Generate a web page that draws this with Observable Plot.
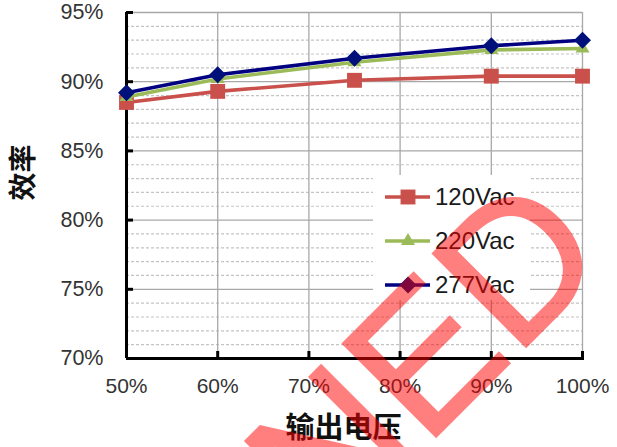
<!DOCTYPE html>
<html>
<head>
<meta charset="utf-8">
<script src="https://cdn.jsdelivr.net/npm/d3@7"></script>
<script src="https://cdn.jsdelivr.net/npm/@observablehq/plot@0.6"></script>
<style>
  body { margin: 0; background: #fff; }
  #chart { width: 617px; height: 447px; overflow: hidden; position: relative; }
  #chart svg { display: block; }
</style>
</head>
<body>
<div id="chart"></div>
<script>
// Load (output voltage) and efficiency per input voltage
const loads   = [0.50, 0.60, 0.75, 0.90, 1.00];
const eff120  = [0.885, 0.893, 0.901, 0.904, 0.904];
const eff220  = [0.889, 0.902, 0.914, 0.923, 0.924];
const eff277  = [0.892, 0.905, 0.917, 0.926, 0.930];
const seriesNames = ["120Vac", "220Vac", "277Vac"];

const xTicks = [0.5, 0.6, 0.7, 0.8, 0.9, 1.0];
const yTicks = [0.70, 0.75, 0.80, 0.85, 0.90, 0.95];
const yMinor = d3.range(70, 96).map(v => v / 100);

const xTitle = "输出电压";
const yTitle = "效率";
const stamp = "NED";

// styling
const colors = ["#C9504B", "#9BBB59", "#000080"];
const markFill = ["#C9504B", "#9BBB59", "#00107A"];
const diamond = {
  draw(ctx, size) {
    const r = Math.sqrt(size / 2);
    ctx.moveTo(0, -r); ctx.lineTo(r, 0); ctx.lineTo(0, r); ctx.lineTo(-r, 0); ctx.closePath();
  }
};
const symbols = [d3.symbolSquare, d3.symbolTriangle, diamond];
const radii = [8.4, 5.2, 6.8];

const W = 617, H = 447;
const mL = 126, mR = 35, mT = 12, mB = 89;
const frameW = W - mL - mR, frameH = H - mT - mB;
const cjk = "'Noto Sans CJK SC', 'Noto Sans CJK JP', sans-serif";

const values = [eff120, eff220, eff277];
const rows = seriesNames.flatMap((s, i) => loads.map((x, j) => ({series: s, load: x, eff: values[i][j]})));
const pct = d => Math.round(d * 100) + "%";

const seriesMarks = seriesNames.flatMap((s, i) => {
  const d = rows.filter(r => r.series === s);
  return [
    Plot.line(d, {x: "load", y: "eff", stroke: colors[i], strokeWidth: 3.6}),
    Plot.dot(d, {x: "load", y: "eff", symbol: () => symbols[i], r: radii[i], fill: markFill[i], stroke: "none"})
  ];
});

const plot = Plot.plot({
  width: W, height: H,
  marginLeft: mL, marginRight: mR, marginTop: mT, marginBottom: mB,
  style: {fontFamily: "'Liberation Sans', Arial, sans-serif", background: "#fff"},
  x: {domain: [0.5, 1.0], axis: null},
  y: {domain: [0.70, 0.95], axis: null},
  symbol: {type: "identity"},
  marks: [
    // grid
    Plot.ruleY(yMinor.filter(v => !yTicks.includes(v)), {stroke: "#c4c4c4", strokeWidth: 1.2, strokeDasharray: "3,2"}),
    Plot.ruleY(yTicks, {stroke: "#a8a8a8", strokeWidth: 1.3}),
    Plot.ruleX(xTicks, {stroke: "#a8a8a8", strokeWidth: 1.3}),
    // axes
    Plot.ruleX([0.5], {stroke: "#000", strokeWidth: 3}),
    Plot.ruleY([0.70], {stroke: "#000", strokeWidth: 3, insetRight: -2}),
    Plot.tickY(yTicks, {y: d => d, stroke: "#000", strokeWidth: 3, insetRight: frameW - 7}),
    Plot.tickX(xTicks, {x: d => d, stroke: "#000", strokeWidth: 3, insetTop: frameH - 7}),
    Plot.text(yTicks, {x: 0.5, y: d => d, text: pct, textAnchor: "end", dx: -23, fontSize: 21.5, fill: "#333"}),
    Plot.text(xTicks, {x: d => d, frameAnchor: "bottom", lineAnchor: "middle", text: pct, dy: 28, fontSize: 21, fill: "#333"}),
    Plot.text([yTitle], {frameAnchor: "left", textAnchor: "middle", lineAnchor: "middle", text: d => d, rotate: -90, dx: -102, dy: -13, fontSize: 28, fontWeight: "bold", fontFamily: cjk, fill: "#111"}),
    Plot.text([xTitle], {frameAnchor: "bottom", textAnchor: "middle", lineAnchor: "middle", text: d => d, dx: -11, dy: 70, fontSize: 29, fontWeight: "bold", fontFamily: cjk, fill: "#111"}),
    ...seriesMarks
  ]
});

document.getElementById("chart").appendChild(plot);

// legend inside the plot area
const svg = d3.select(plot);
const lg = svg.append("g")
  .attr("font-family", "'Liberation Sans', Arial, sans-serif")
  .attr("text-anchor", "start");
lg.append("rect").attr("x", 373).attr("y", 175).attr("width", 157).attr("height", 125).attr("fill", "#fff");
seriesNames.forEach((s, i) => {
  const cy = 197 + i * 44;
  lg.append("line").attr("x1", 385).attr("x2", 430).attr("y1", cy).attr("y2", cy)
    .attr("stroke", colors[i]).attr("stroke-width", 3.6);
  lg.append("path").attr("transform", `translate(408,${cy})`)
    .attr("d", d3.symbol(symbols[i], Math.PI * radii[i] * radii[i])())
    .attr("fill", markFill[i]);
  lg.append("text").attr("x", 435).attr("y", cy).attr("dy", "0.35em")
    .attr("font-size", 24).attr("fill", "#1a1a1a").text(s);
});

// stamp across the lower right
svg.append("text")
  .attr("transform", "translate(327.5,545) rotate(-45)")
  .attr("text-anchor", "start")
  .attr("font-family", "'Liberation Sans', Arial, sans-serif")
  .attr("font-size", 191)
  .attr("fill", "#ff0000")
  .attr("stroke", "#ff0000")
  .attr("stroke-width", 2.5)
  .attr("opacity", 0.5)
  .text(stamp);
</script>
</body>
</html>
